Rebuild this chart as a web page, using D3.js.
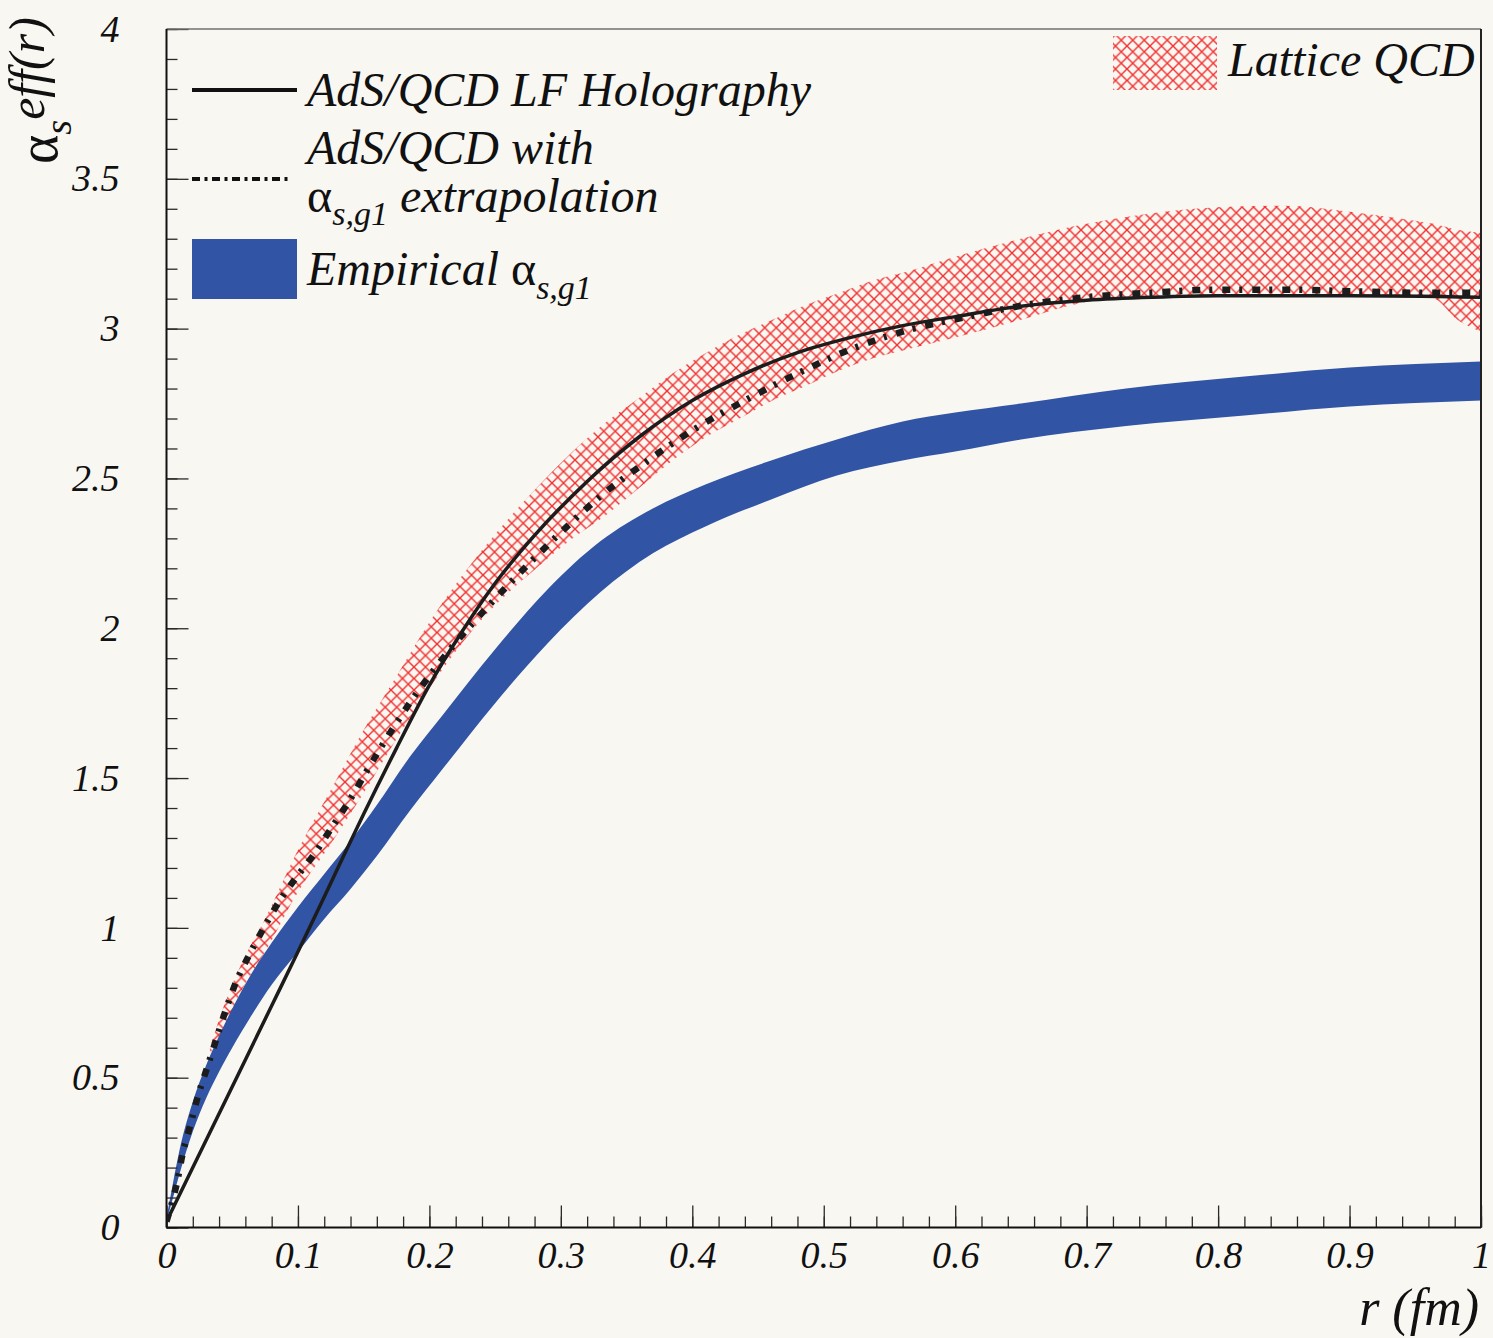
<!DOCTYPE html>
<html>
<head>
<meta charset="utf-8">
<script src="https://d3js.org/d3.v7.min.js"></script>
<style>
  body { margin: 0; background: #f9f7f2; }
  .axis text { font-family: "Liberation Serif", "Times New Roman", serif; font-style: italic; font-size: 38px; fill: #111; }
  .axis line { stroke: #2a2a2a; stroke-width: 1.3px; }
  .axis .domain { stroke: none; }
  .leg { font-family: "Liberation Serif", "Times New Roman", serif; font-style: italic; font-size: 48px; fill: #111; }
  .greek { font-style: normal; }
</style>
</head>
<body>
<svg id="chart" width="1493" height="1338"></svg>
<script>
  // AdS/QCD LF holography (solid line)
  const holoR = [0, 0.02, 0.05, 0.08, 0.1, 0.125, 0.15, 0.175, 0.2, 0.225, 0.25, 0.28, 0.32, 0.36, 0.4, 0.44, 0.48, 0.52, 0.56, 0.6, 0.65, 0.7, 0.75, 0.8, 0.9, 1.0];
  const holoA = [0.02, 0.2, 0.47, 0.74, 0.92, 1.15, 1.38, 1.6, 1.81, 1.99, 2.15, 2.31, 2.49, 2.64, 2.76, 2.85, 2.92, 2.97, 3.01, 3.04, 3.075, 3.095, 3.105, 3.11, 3.11, 3.105];

  // AdS/QCD with alpha_s,g1 extrapolation (dash-dot)
  const extrapR = [0, 0.004, 0.008, 0.012, 0.018, 0.024, 0.031, 0.038, 0.045, 0.053, 0.063, 0.074, 0.086, 0.099, 0.113, 0.125, 0.137, 0.16, 0.185, 0.214, 0.244, 0.27, 0.3, 0.33, 0.36, 0.4, 0.44, 0.48, 0.52, 0.56, 0.61, 0.655, 0.7, 0.75, 0.8, 0.85, 0.9, 0.95, 1.0];
  const extrapA = [0.02, 0.08, 0.15, 0.24, 0.34, 0.44, 0.535, 0.63, 0.725, 0.82, 0.91, 1.0, 1.09, 1.17, 1.25, 1.33, 1.41, 1.58, 1.75, 1.92, 2.07, 2.19, 2.32, 2.44, 2.54, 2.66, 2.76, 2.85, 2.93, 2.99, 3.04, 3.08, 3.105, 3.12, 3.13, 3.13, 3.125, 3.12, 3.12];

  // empirical alpha_s,g1 band
  const empR  = [0, 0.005, 0.01, 0.02, 0.03, 0.04, 0.05, 0.065, 0.08, 0.1, 0.12, 0.14, 0.16, 0.185, 0.21, 0.25, 0.29, 0.33, 0.37, 0.41, 0.46, 0.51, 0.56, 0.6, 0.65, 0.73, 0.82, 0.9, 1.0];
  const empHi = [0.03, 0.15, 0.26, 0.42, 0.54, 0.64, 0.73, 0.85, 0.95, 1.07, 1.18, 1.29, 1.41, 1.57, 1.71, 1.93, 2.13, 2.29, 2.4, 2.48, 2.56, 2.63, 2.69, 2.72, 2.75, 2.8, 2.84, 2.87, 2.89];
  const empLo = [0.02, 0.1, 0.18, 0.32, 0.43, 0.52, 0.6, 0.71, 0.81, 0.92, 1.03, 1.13, 1.24, 1.39, 1.53, 1.75, 1.95, 2.12, 2.25, 2.34, 2.43, 2.51, 2.56, 2.59, 2.63, 2.675, 2.71, 2.74, 2.76];

  // lattice QCD band
  const latR  = [0.033, 0.042, 0.057, 0.075, 0.1, 0.125, 0.15, 0.175, 0.2, 0.24, 0.284, 0.309, 0.335, 0.36, 0.385, 0.411, 0.436, 0.461, 0.487, 0.512, 0.537, 0.563, 0.6, 0.65, 0.7, 0.75, 0.8, 0.85, 0.9, 0.95, 0.964, 0.982, 1.0];
  const latHi = [0.6, 0.72, 0.88, 1.03, 1.26, 1.46, 1.66, 1.84, 2.02, 2.26, 2.48, 2.59, 2.69, 2.77, 2.85, 2.92, 2.98, 3.03, 3.08, 3.12, 3.16, 3.19, 3.24, 3.3, 3.35, 3.385, 3.405, 3.41, 3.39, 3.36, 3.35, 3.33, 3.32];
  const latLo = [0.58, 0.65, 0.79, 0.92, 1.12, 1.28, 1.45, 1.63, 1.8, 2.03, 2.21, 2.3, 2.38, 2.47, 2.56, 2.64, 2.7, 2.76, 2.81, 2.86, 2.9, 2.93, 2.97, 3.03, 3.09, 3.11, 3.11, 3.11, 3.11, 3.105, 3.1, 3.03, 2.99];

  const xTickValues = [0, 0.1, 0.2, 0.3, 0.4, 0.5, 0.6, 0.7, 0.8, 0.9, 1];
  const xTickLabels = ["0", "0.1", "0.2", "0.3", "0.4", "0.5", "0.6", "0.7", "0.8", "0.9", "1"];
  const yTickValues = [0, 0.5, 1, 1.5, 2, 2.5, 3, 3.5, 4];
  const yTickLabels = ["0", "0.5", "1", "1.5", "2", "2.5", "3", "3.5", "4"];

  const svg = d3.select("#chart");
  const width = +svg.attr("width");
  const height = +svg.attr("height");

  svg.append("rect").attr("width", width).attr("height", height).attr("fill", "#f9f7f2");

  const x = d3.scaleLinear().domain([0, 1]).range([166.5, 1481]);
  const y = d3.scaleLinear().domain([0, 4]).range([1227.5, 29]);

  const defs = svg.append("defs");
  defs.append("clipPath").attr("id", "plotclip")
    .append("rect")
    .attr("x", x(0)).attr("y", y(4))
    .attr("width", x(1) - x(0)).attr("height", y(0) - y(4));

  const pat = defs.append("pattern").attr("id", "hatch")
    .attr("patternUnits", "userSpaceOnUse")
    .attr("width", 11.5).attr("height", 11.5);
  pat.append("path")
    .attr("d", "M-1,-1L12.5,12.5M12.5,-1L-1,12.5")
    .attr("stroke", "#f23030").attr("stroke-width", 1.4).attr("fill", "none");

  const plot = svg.append("g").attr("clip-path", "url(#plotclip)");

  const latData = latR.map((r, i) => ({ r: r, hi: latHi[i], lo: latLo[i] }));
  const empData = empR.map((r, i) => ({ r: r, hi: empHi[i], lo: empLo[i] }));
  const holoData = holoR.map((r, i) => ({ r: r, a: holoA[i] }));
  const extrapData = extrapR.map((r, i) => ({ r: r, a: extrapA[i] }));

  const band = d3.area()
    .x(d => x(d.r))
    .y0(d => y(d.lo))
    .y1(d => y(d.hi))
    .curve(d3.curveMonotoneX);

  const line = d3.line()
    .x(d => x(d.r))
    .y(d => y(d.a))
    .curve(d3.curveMonotoneX);

  plot.append("path").datum(latData)
    .attr("d", band)
    .attr("fill", "url(#hatch)");

  plot.append("path").datum(empData)
    .attr("d", band)
    .attr("fill", "#3155a4");

  plot.append("path").datum(holoData)
    .attr("d", line)
    .attr("fill", "none")
    .attr("stroke", "#1c1c1c")
    .attr("stroke-width", 3.5);

  plot.append("path").datum(extrapData)
    .attr("d", line)
    .attr("fill", "none")
    .attr("stroke", "#1c1c1c")
    .attr("stroke-width", 6.5)
    .attr("stroke-dasharray", "8,9,3,10");

  // axes (ticks point into the frame)
  svg.append("g").attr("class", "axis")
    .attr("transform", `translate(${x(0)},0)`)
    .call(d3.axisLeft(y).tickValues(d3.range(0, 4.001, 0.1)).tickSize(-11).tickFormat(""));
  svg.append("g").attr("class", "axis")
    .attr("transform", `translate(${x(0)},0)`)
    .call(d3.axisLeft(y).tickValues(yTickValues).tickSize(-22).tickPadding(47)
      .tickFormat((d, i) => yTickLabels[i]));

  svg.append("g").attr("class", "axis")
    .attr("transform", `translate(0,${y(0)})`)
    .call(d3.axisBottom(x).tickValues(d3.range(0, 1.0001, 0.02)).tickSize(-11).tickFormat(""));
  svg.append("g").attr("class", "axis")
    .attr("transform", `translate(0,${y(0)})`)
    .call(d3.axisBottom(x).tickValues(xTickValues).tickSize(-22).tickPadding(14)
      .tickFormat((d, i) => xTickLabels[i]));

  // frame
  svg.append("line").attr("x1", x(0)).attr("x2", x(1)).attr("y1", y(4)).attr("y2", y(4))
    .attr("stroke", "#707070").attr("stroke-width", 1.5);
  svg.append("line").attr("x1", x(1)).attr("x2", x(1)).attr("y1", y(4)).attr("y2", y(0))
    .attr("stroke", "#222").attr("stroke-width", 2);
  svg.append("line").attr("x1", x(0)).attr("x2", x(0)).attr("y1", y(4)).attr("y2", y(0))
    .attr("stroke", "#111").attr("stroke-width", 2);
  svg.append("line").attr("x1", x(0)).attr("x2", x(1)).attr("y1", y(0)).attr("y2", y(0))
    .attr("stroke", "#111").attr("stroke-width", 2);

  // axis titles
  svg.append("text").attr("class", "leg")
    .attr("text-anchor", "end")
    .attr("x", 1479).attr("y", 1325)
    .style("font-size", "52px")
    .text("r (fm)");

  const yt = svg.append("text").attr("class", "leg")
    .attr("transform", "translate(57,164) rotate(-90)");
  yt.append("tspan").attr("class", "greek").style("font-size", "56px").text("α");
  yt.append("tspan").style("font-size", "38px").attr("dy", 14).text("s");
  yt.append("tspan").style("font-size", "50px").attr("dy", -27).text("eff(r)");

  // legend
  const leg = svg.append("g");
  leg.append("line").attr("x1", 192).attr("x2", 297).attr("y1", 90).attr("y2", 90)
    .attr("stroke", "#111").attr("stroke-width", 4);
  leg.append("text").attr("class", "leg").attr("x", 307).attr("y", 106)
    .text("AdS/QCD LF Holography");

  leg.append("line").attr("x1", 192).attr("x2", 292).attr("y1", 179).attr("y2", 179)
    .attr("stroke", "#111").attr("stroke-width", 4).attr("stroke-dasharray", "8,4.5,3,4.5");
  leg.append("text").attr("class", "leg").attr("x", 307).attr("y", 164)
    .text("AdS/QCD with");
  const l2 = leg.append("text").attr("class", "leg").attr("x", 307).attr("y", 212);
  l2.append("tspan").attr("class", "greek").text("α");
  l2.append("tspan").style("font-size", "34px").attr("dy", 13).text("s,g1");
  l2.append("tspan").attr("dy", -13).text(" extrapolation");

  leg.append("rect").attr("x", 192).attr("y", 239).attr("width", 105).attr("height", 60)
    .attr("fill", "#3155a4");
  const l3 = leg.append("text").attr("class", "leg").attr("x", 307).attr("y", 285);
  l3.append("tspan").text("Empirical ");
  l3.append("tspan").attr("class", "greek").text("α");
  l3.append("tspan").style("font-size", "34px").attr("dy", 14).text("s,g1");

  leg.append("rect").attr("x", 1113).attr("y", 36).attr("width", 104).attr("height", 54)
    .attr("fill", "url(#hatch)");
  leg.append("text").attr("class", "leg").attr("x", 1228).attr("y", 76)
    .text("Lattice QCD");
</script>
</body>
</html>
